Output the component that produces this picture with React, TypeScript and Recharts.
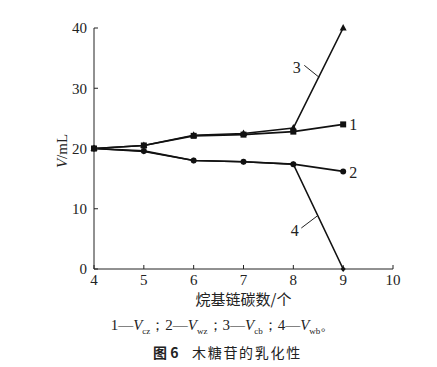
import {
  LineChart,
  Line,
  XAxis,
  YAxis,
  ReferenceLine,
  ReferenceDot,
} from 'recharts';

// alkyl chain carbon number
const carbons = [4, 5, 6, 7, 8, 9];
// 1 - Vcz, 2 - Vwz, 3 - Vcb, 4 - Vwb (mL)
const vcz = [20, 20.5, 22.1, 22.3, 22.8, 24.0];
const vwz = [20, 19.6, 18.0, 17.8, 17.4, 16.2];
const vcb = [20, 20.5, 22.2, 22.5, 23.4, 40];
const vwb = [20, 19.5, 18.0, 17.8, 17.4, 0];

const xTicks = [4, 5, 6, 7, 8, 9, 10];
const yTicks = [0, 10, 20, 30, 40];

const data = carbons.map((c, i) => ({
  c,
  vcz: vcz[i],
  vwz: vwz[i],
  vcb: vcb[i],
  vwb: vwb[i],
}));

const serif = '"Liberation Serif", "Times New Roman", serif';
const cjk = '"Noto Sans CJK SC", sans-serif';

const SquareDot = (props: any) => {
  const { cx, cy } = props;
  if (cx == null || cy == null) return null;
  return <rect x={cx - 3} y={cy - 3} width={6} height={6} fill="#111" />;
};

const CircleDot = (props: any) => {
  const { cx, cy } = props;
  if (cx == null || cy == null) return null;
  return <circle cx={cx} cy={cy} r={3} fill="#111" />;
};

const TriangleDot = (props: any) => {
  const { cx, cy } = props;
  if (cx == null || cy == null) return null;
  return <path d={`M${cx},${cy - 4} L${cx + 3.5},${cy + 2.5} L${cx - 3.5},${cy + 2.5} Z`} fill="#111" />;
};

const DiamondDot = (props: any) => {
  const { cx, cy } = props;
  if (cx == null || cy == null) return null;
  return <path d={`M${cx},${cy - 3} L${cx + 2.5},${cy} L${cx},${cy + 3} L${cx - 2.5},${cy} Z`} fill="#111" />;
};

const tickStyle = { fontFamily: serif, fontSize: 15, fill: '#222' };

export default function App() {
  return (
    <div style={{ position: 'absolute', left: 0, top: 0, width: 437, height: 367, background: '#fff' }}>
      <LineChart
        width={437}
        height={367}
        data={data}
        margin={{ top: 28, right: 44, left: 54, bottom: 68 }}
      >
        <XAxis
          dataKey="c"
          type="number"
          domain={[4, 10]}
          ticks={xTicks}
          tickSize={-4}
          tickMargin={9}
          height={30}
          stroke="#222"
          tick={tickStyle}
          interval={0}
        />
        <XAxis xAxisId="top" orientation="top" dataKey="c" type="number" domain={[4, 10]} tick={false} height={0} stroke="#222" />
        <YAxis
          type="number"
          domain={[0, 40]}
          ticks={yTicks}
          tickSize={-4}
          tickMargin={11}
          width={40}
          stroke="#222"
          tick={tickStyle}
          interval={0}
        />
        <YAxis yAxisId="right" orientation="right" domain={[0, 40]} tick={false} width={0} stroke="#222" />
        <Line dataKey="vwb" stroke="#111" strokeWidth={1.6} dot={<DiamondDot />} isAnimationActive={false} />
        <Line dataKey="vcb" stroke="#111" strokeWidth={1.6} dot={<TriangleDot />} isAnimationActive={false} />
        <Line dataKey="vwz" stroke="#111" strokeWidth={1.6} dot={<CircleDot />} isAnimationActive={false} />
        <Line dataKey="vcz" stroke="#111" strokeWidth={1.6} dot={<SquareDot />} isAnimationActive={false} />
        <ReferenceLine segment={[{ x: 8.22, y: 33.8 }, { x: 8.52, y: 31.8 }]} stroke="#222" strokeWidth={1} />
        <ReferenceLine segment={[{ x: 8.16, y: 6.8 }, { x: 8.48, y: 8.8 }]} stroke="#222" strokeWidth={1} />
        <ReferenceDot x={8.07} y={33.4} r={0} label={{ value: '3', fontFamily: serif, fontSize: 16, fill: '#222' }} />
        <ReferenceDot x={8.03} y={6.4} r={0} label={{ value: '4', fontFamily: serif, fontSize: 16, fill: '#222' }} />
        <ReferenceDot x={9.2} y={24.0} r={0} label={{ value: '1', fontFamily: serif, fontSize: 16, fill: '#222' }} />
        <ReferenceDot x={9.2} y={16.1} r={0} label={{ value: '2', fontFamily: serif, fontSize: 16, fill: '#222' }} />
      </LineChart>
      <div
        style={{
          position: 'absolute',
          left: 62,
          top: 151,
          transform: 'translate(-50%, -50%) rotate(-90deg)',
          fontFamily: serif,
          fontSize: 15,
          color: '#222',
          whiteSpace: 'nowrap',
        }}
      >
        <i>V</i>/mL
      </div>
      <div style={{ position: 'absolute', left: 0, width: 487, top: 288, textAlign: 'center', fontFamily: cjk, fontSize: 15, color: '#222' }}>
        烷基链碳数/个
      </div>
      <div style={{ position: 'absolute', left: 0, width: 446, top: 316, textAlign: 'center', fontFamily: serif, fontSize: 15, color: '#222', whiteSpace: 'nowrap' }}>
        1—<i>V</i><sub style={{ fontSize: 9 }}>cz</sub>；2—<i>V</i><sub style={{ fontSize: 9 }}>wz</sub>；3—<i>V</i>
        <sub style={{ fontSize: 9 }}>cb</sub>；4—<i>V</i><sub style={{ fontSize: 9 }}>wb</sub>。
      </div>
      <div style={{ position: 'absolute', left: 153, top: 343, fontFamily: cjk, fontSize: 14, lineHeight: '18px', color: '#222', whiteSpace: 'nowrap' }}>
        <b>图 6</b>
      </div>
      <div style={{ position: 'absolute', left: 192, top: 343, fontFamily: cjk, fontSize: 14, lineHeight: '18px', letterSpacing: 1.7, color: '#222', whiteSpace: 'nowrap' }}>
        木糖苷的乳化性
      </div>
    </div>
  );
}
